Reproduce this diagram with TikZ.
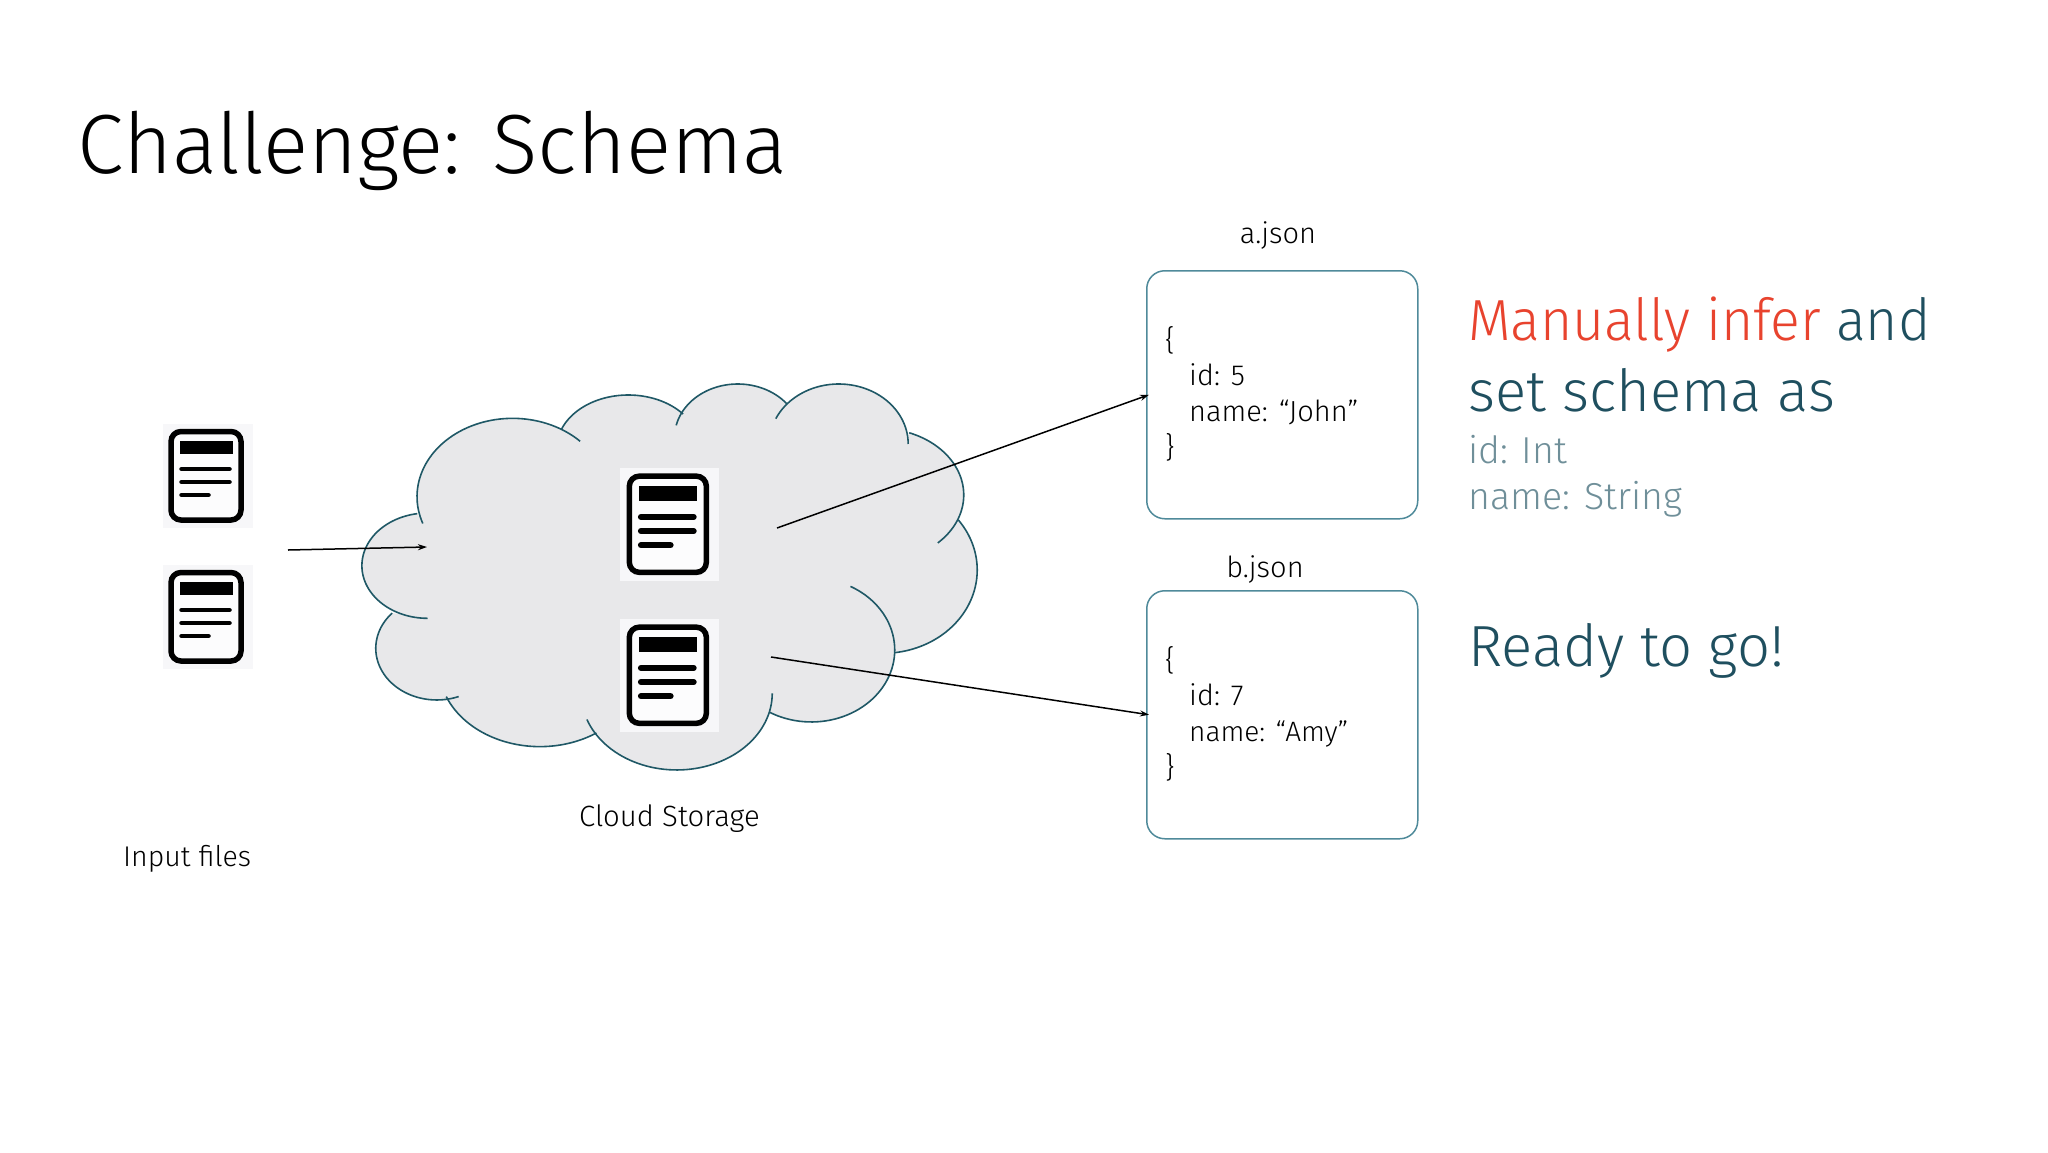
\documentclass[tikz,border=0pt]{standalone}
\usepackage{fontspec}
\setmainfont{Fira Sans}[UprightFont={* Light},BoldFont={* Medium}]
\usetikzlibrary{arrows.meta}
\definecolor{cloudfill}{HTML}{E8E8EA}
\definecolor{cloudline}{HTML}{1F5866}
\definecolor{boxline}{HTML}{4F8A9A}
\definecolor{patch}{HTML}{F7F7F9}
\definecolor{tred}{HTML}{E8432E}
\definecolor{tteal}{HTML}{1F4F5F}
\definecolor{tgray}{HTML}{6F8F99}
\tikzset{
  fs/.style={font=\fontsize{#1}{#1}\selectfont},
  txt/.style={anchor=base west,inner sep=0pt,text=#1},
  txt/.default=black,
  label/.style={txt,fs=29},
  code/.style={txt,fs=29},
  big/.style={txt=#1,fs=58},
  small/.style={txt=tgray,fs=37.5},
  jbox/.style={draw=boxline,line width=1.5pt,rounded corners=18pt,fill=white},
  arrow/.style={line width=1.5pt,-{Stealth[length=9pt,width=6pt]}},
  lobe/.style={draw=cloudline,line width=1.6pt},
  lb/.style n args={6}{insert path={plot[domain=#1:#2,samples=60] ({#3+#5*cos(\x)},{#4+#6*sin(\x)})}},
  lc/.style n args={6}{insert path={-- plot[domain=#1:#2,samples=60] ({#3+#5*cos(\x)},{#4+#6*sin(\x)})}},
}
\newcommand{\docicon}[6]{% name, x, y, xscale, yscale, bar width
  \node[fill=patch,inner sep=0pt,minimum width=#4*90pt,minimum height=#5*104pt,anchor=north west] (#1) at (#2,#3) {};
  \begin{scope}[shift={(#2,#3)},xscale=#4,yscale=#5]
    \draw[line width=5.5pt,rounded corners=10pt,fill=white!60!patch] (8.5,7.5) rectangle (78.5,96);
    \fill (17,17) rectangle (70,30);
    \draw[line width=#6,line cap=round] (19,45) -- (67,45) (19,58) -- (67,58) (19,71) -- (46,71);
  \end{scope}}
\begin{document}
\begin{tikzpicture}[x=1pt,y=-1pt]
\useasboundingbox (0,0) rectangle (2048,1152);
\fill[white] (0,0) rectangle (2048,1152);
% cloud
\begin{scope}[shift={(340,360)},x=0.42088pt,y=-0.3333pt]
\fill[cloudfill,
  lb={160}{315}{410}{410}{227}{235},
  lc={201}{320}{685}{265}{170}{160},
  lc={193}{321}{945}{232}{150}{160},
  lc={205}{360}{1185}{252}{165}{180},
  lc={-69}{46}{1280}{405}{202}{200},
  lc={-37}{83}{1290}{630}{224}{250},
  lc={-62}{120}{1120}{870}{198}{216},
  lc={0}{160}{800}{1000}{227}{230},
  lc={56}{158}{475}{920}{240}{240},
  lc={69}{223}{230}{865}{145}{155},
  lc={90}{261}{208}{617}{156}{158}];
\foreach \pa/\pb/\pc/\pd/\pe/\pf in {
  160/315/410/410/227/235,
  201/320/685/265/170/160,
  193/321/945/232/150/160,
  205/360/1185/252/165/180,
  -69/46/1280/405/202/200,
  -37/83/1290/630/224/250,
  -62/120/1120/870/198/216,
  0/160/800/1000/227/230,
  56/158/475/920/240/240,
  69/223/230/865/145/155,
  90/261/208/617/156/158}
  \draw[lobe,lb={\pa}{\pb}{\pc}{\pd}{\pe}{\pf}];
\end{scope}
% icons
\docicon{inA}{162.5}{424}{1}{1}{4.5pt}
\docicon{inB}{162.5}{565}{1}{1}{4.5pt}
\docicon{stA}{620}{468}{1.1}{1.087}{6pt}
\docicon{stB}{620}{619}{1.1}{1.087}{6pt}
% boxes
\node[jbox,anchor=north west,minimum width=271pt,minimum height=248pt,inner sep=0pt] (boxA) at (1146,270) {};
\node[jbox,anchor=north west,minimum width=271pt,minimum height=248pt,inner sep=0pt] (boxB) at (1146,590) {};
% connectors
\coordinate (inStart) at (288,550);
\coordinate (inEnd) at (427,547);
\coordinate (aStart) at (777,528);
\coordinate (bStart) at (771,657);
\draw[arrow] (inStart) -- (inEnd);
\draw[arrow] (aStart) -- ([xshift=3pt]boxA.west);
\draw[arrow] (bStart) -- ([xshift=3pt]boxB.west);
% text
\node[txt,fs=84] (title) at (77.5,173) {Challenge: Schema};
\node[label,anchor=base] (aname) at (1278,243) {a.json};
\node[label,anchor=base] (bname) at (1265,577) {b.json};
\node[label,fs=28.5] (inlabel) at (123,866) {Input files};
\node[label,fs=29.3] (cloudlabel) at (579,826) {Cloud Storage};
\node[code] (a1) at (1165,350) {\{};
\node[code] (a2) at (1189,385) {id: 5};
\node[code] (a3) at (1189,421) {name: “John”};
\node[code] (a4) at (1165,457) {\}};
\node[code] (b1) at (1165,670) {\{};
\node[code] (b2) at (1189,705) {id: 7};
\node[code,fs=28] (b3) at (1189,741) {name: “Amy”};
\node[code] (b4) at (1165,777) {\}};
\node[big=tteal] (r1) at (1468,340) {\scalebox{0.954}[1]{\textcolor{tred}{Manually infer} and}};
\node[big=tteal] (r2) at (1468,411) {set schema as};
\node[small] (r3) at (1468,463) {id: Int};
\node[small] (r4) at (1468,509) {name: String};
\node[big=tteal] (r5) at (1468,666) {Ready to go!};
\end{tikzpicture}
\end{document}
